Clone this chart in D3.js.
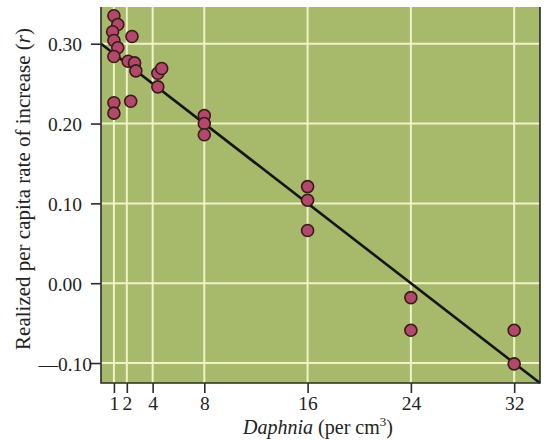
<!DOCTYPE html>
<html>
<head>
<meta charset="utf-8">
<script src="https://cdn.jsdelivr.net/npm/d3@7"></script>
<style>
  body { margin: 0; background: #fff; }
  svg { display: block; font-family: "Liberation Serif", "Times New Roman", serif; }
  .grid line { stroke: #eef3c8; stroke-width: 2; }
  .point { fill: #b2486a; stroke: #3b1a1e; stroke-width: 1.6; }
  .fit { stroke: #151515; stroke-width: 2.6; }
  .frame { stroke: #2b2b2b; stroke-width: 1.6; fill: none; }
</style>
</head>
<body>
<svg></svg>
<script>
// tick values on each axis
var xTicks = [1, 2, 4, 8, 16, 24, 32];
var yTicks = [0.30, 0.20, 0.10, 0.00, -0.10];

// Daphnia density (per cm3) and realized r
var density = [1.0, 1.3, 0.9, 1.0, 1.3, 1.0, 2.4, 2.1, 2.6, 2.7, 4.4, 4.7, 4.4, 1.0, 1.0, 2.3,
               8, 8, 8, 16, 16, 16, 24, 24, 32, 32];
var rate = [0.335, 0.324, 0.315, 0.304, 0.295, 0.284, 0.309, 0.278, 0.276, 0.266, 0.263, 0.269, 0.246, 0.226, 0.213, 0.228,
            0.210, 0.200, 0.186, 0.121, 0.104, 0.066, -0.018, -0.059, -0.059, -0.101];

// fitted line r = a + b * N
var fitIntercept = 0.30;
var fitSlope = -0.0125;

var config = {
  w: 548,
  h: 440,
  left: 101,
  right: 540,
  top: 7,
  bottom: 383,
  r: 6
};

var x = d3.scaleLinear().domain([0, 34]).range([config.left, config.right]);
var y = d3.scaleLinear().domain([-0.125, 0.346]).range([config.bottom, config.top]);

var svg = d3.select("svg")
  .attr("width", config.w)
  .attr("height", config.h);

// plot background
svg.append("rect")
  .attr("x", config.left)
  .attr("y", config.top)
  .attr("width", config.right - config.left)
  .attr("height", config.bottom - config.top)
  .attr("fill", "#a7b96b");

// grid
var grid = svg.append("g").attr("class", "grid");
grid.selectAll("line.v")
  .data(xTicks)
  .enter().append("line")
    .attr("class", "v")
    .attr("x1", x).attr("x2", x)
    .attr("y1", config.top).attr("y2", config.bottom);
grid.selectAll("line.h")
  .data(yTicks)
  .enter().append("line")
    .attr("class", "h")
    .attr("x1", config.left).attr("x2", config.right)
    .attr("y1", y).attr("y2", y);

// regression line
var line = d3.line()
  .x(function(d) { return x(d); })
  .y(function(d) { return y(fitIntercept + fitSlope * d); });

svg.append("path")
  .attr("class", "fit")
  .attr("fill", "none")
  .attr("d", line(x.domain()));

// points
var data = density.map(function(d, i) { return {n: d, r: rate[i]}; });
svg.selectAll("circle.point")
  .data(data)
  .enter().append("circle")
    .attr("class", "point")
    .attr("cx", function(d) { return x(d.n); })
    .attr("cy", function(d) { return y(d.r); })
    .attr("r", config.r);

// frame: left, bottom, right
svg.append("path")
  .attr("class", "frame")
  .attr("d", "M" + config.left + "," + config.top
    + "V" + config.bottom
    + "H" + config.right
    + "V" + config.top);

// axes
var xAxis = d3.axisBottom(x)
  .tickValues(xTicks)
  .tickSize(10)
  .tickPadding(3)
  .tickFormat(d3.format("d"));

var gx = svg.append("g")
  .attr("transform", "translate(0," + config.bottom + ")")
  .call(xAxis);
gx.select(".domain").remove();

var yAxis = d3.axisLeft(y)
  .tickValues(yTicks)
  .tickSize(10)
  .tickPadding(9)
  .tickFormat(function(d) {
    return d < 0 ? "\u2014" + d3.format(".2f")(-d) : d3.format(".2f")(d);
  });

var gy = svg.append("g")
  .attr("transform", "translate(" + config.left + ",0)")
  .call(yAxis);
gy.select(".domain").remove();

svg.selectAll(".tick line").attr("stroke", "#2b2b2b").attr("stroke-width", 1.6);
svg.selectAll(".tick text")
  .attr("fill", "#222")
  .style("font-family", "'Liberation Serif', serif")
  .style("font-size", "19.5px");
gy.selectAll(".tick text")
  .attr("dy", "0.36em")
  .attr("dx", function(d) { return d < 0 ? 10 : 0; });

// axis titles
var xTitle = svg.append("text")
  .attr("x", 318)
  .attr("y", 434)
  .attr("text-anchor", "middle")
  .attr("fill", "#222")
  .style("font-size", "20px");
xTitle.append("tspan").style("font-style", "italic").text("Daphnia");
xTitle.append("tspan").text(" (per cm");
xTitle.append("tspan").attr("dy", -8).style("font-size", "13px").text("3");
xTitle.append("tspan").attr("dy", 8).text(")");

var yTitle = svg.append("text")
  .attr("transform", "translate(30," + 189 + ") rotate(-90)")
  .attr("text-anchor", "middle")
  .attr("fill", "#222")
  .style("font-size", "21px");
yTitle.append("tspan").text("Realized per capita rate of increase (");
yTitle.append("tspan").style("font-style", "italic").text("r");
yTitle.append("tspan").text(")");
</script>
</body>
</html>
